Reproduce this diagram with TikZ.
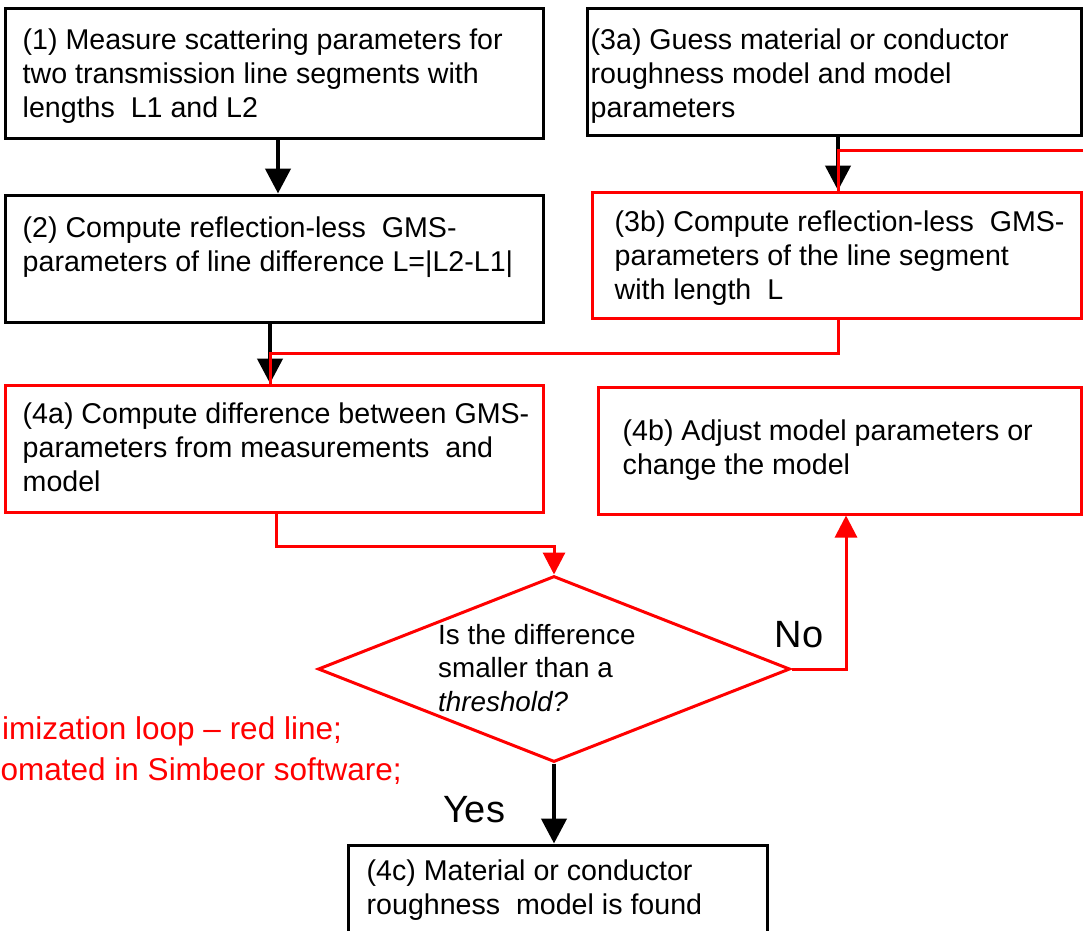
\documentclass[tikz,border=0pt]{standalone}
\usepackage{fontspec}
\setmainfont{Liberation Sans}
\usetikzlibrary{arrows.meta,shapes.geometric}
\definecolor{pred}{RGB}{255,0,0}
\begin{document}
\begin{tikzpicture}[x=1pt,y=-1pt,
  bbox/.style={draw=black,line width=3pt,inner sep=0pt},
  rbox/.style={draw=pred,line width=3pt,inner sep=0pt},
  txt/.style={anchor=west,align=left,inner sep=0pt,text=black,font=\fontsize{28.6}{34}\selectfont},
  big/.style={inner sep=0pt,text=black,font=\fontsize{38}{44}\selectfont},
  note/.style={anchor=west,inner sep=0pt,text=pred,font=\fontsize{31.5}{38}\selectfont},
  barrow/.style={draw=black,line width=4.5pt,-{Triangle[width=25pt,length=25pt]}},
  rline/.style={draw=pred,line width=3pt},
  rarrow/.style={draw=pred,line width=3pt,-{Triangle[width=22pt,length=22pt]}}]
\useasboundingbox (0,0) rectangle (1083,930);
\clip (0,0) rectangle (1083,930);
\fill[white] (0,0) rectangle (1083,930);

% boxes
\node[bbox,minimum width=538pt,minimum height=130pt] (b1) at (274,73) {};
\node[bbox,minimum width=538pt,minimum height=127pt] (b2) at (274,258.5) {};
\node[bbox,minimum width=494pt,minimum height=127pt] (b3a) at (834,71.5) {};
\node[rbox,minimum width=489pt,minimum height=126pt] (b3b) at (836.5,255) {};
\node[rbox,minimum width=538pt,minimum height=127pt] (b4a) at (274,448.5) {};
\node[rbox,minimum width=483pt,minimum height=127pt] (b4b) at (839.5,450.5) {};
\node[bbox,minimum width=419pt,minimum height=90pt] (b4c) at (557.5,890) {};
\node[diamond,draw=pred,line width=3pt,inner sep=0pt,minimum width=472pt,minimum height=186pt] (dia) at (554,669) {};

% texts
\node[txt] (t1) at ([xshift=19pt,yshift=-3pt]b1.west) {(1) Measure scattering parameters for\\two transmission line segments with\\lengths\ \ L1 and L2};
\node[txt] (t2) at ([xshift=19pt,yshift=11.5pt]b2.west) {(2) Compute reflection-less\ \ GMS-\\parameters of line difference L=|L2-L1|};
\node[txt] (t3a) at ([xshift=5pt,yshift=-4.5pt]b3a.west) {(3a) Guess material or conductor\\roughness model and model\\parameters};
\node[txt] (t3b) at ([xshift=24pt,yshift=-3pt]b3b.west) {(3b) Compute reflection-less\ \ GMS-\\parameters of the line segment\\with length\ \ L};
\node[txt] (t4a) at ([xshift=19pt,yshift=1.5pt]b4a.west) {(4a) Compute difference between GMS-\\parameters from measurements\ \ and\\model};
\node[txt] (t4b) at ([xshift=26pt]b4b.west) {(4b) Adjust model parameters or\\change the model};
\node[txt] (t4c) at ([xshift=20pt]b4c.west) {(4c) Material or conductor\\roughness\ \ model is found};
\node[txt,font=\fontsize{27.8}{33.5}\selectfont] (td) at (438,668) {Is the difference\\smaller than a\\\textit{threshold?}};
\node[big] (no) at (799,635) {No};
\node[big] (yes) at (474,810) {Yes};
\node[note] (n1) at (2,731) {imization loop – red line;};
\node[note] (n2) at (0.5,771) {omated in Simbeor software;};

% connectors
\draw[barrow] ([xshift=4pt]b1.south) -- ([xshift=4pt]b2.north);
\draw[barrow] ([xshift=4pt]b3a.south) -- ([xshift=4pt]b3a.south |- b3b.north);
\coordinate (loopin) at (1095,150);
\draw[rline] (loopin) -| ([xshift=4pt]b3a.south |- b3b.north);
\draw[barrow] ([xshift=-4pt]b2.south) -- ([xshift=-4pt]b4a.north);
\draw[rline] ([xshift=1.5pt]b3b.south) -- ++(0,34) -| ([xshift=-4pt]b4a.north);
\draw[rarrow] ([xshift=2pt]b4a.south) -- ++(0,33) -| (dia.north);
\draw[rarrow] (dia.east) -| ([xshift=6.5pt]b4b.south);
\draw[barrow] (dia.south) -- (dia.south |- b4c.north);
\end{tikzpicture}
\end{document}
